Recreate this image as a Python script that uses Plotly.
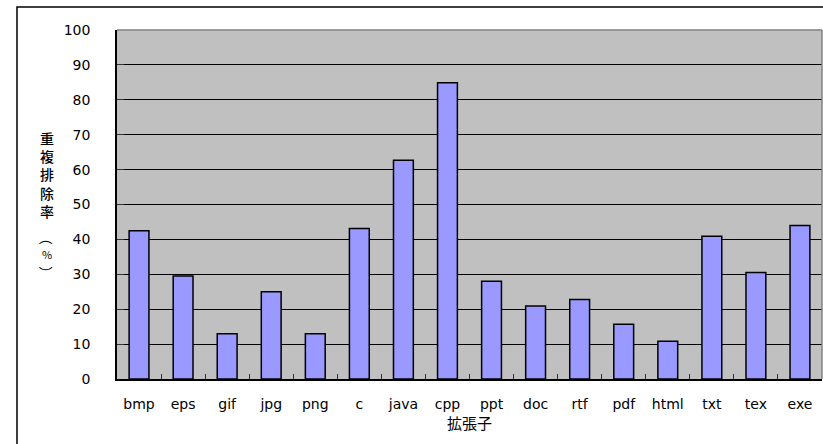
import plotly.graph_objects as go

categories = ["bmp", "eps", "gif", "jpg", "png", "c", "java", "cpp", "ppt", "doc",
              "rtf", "pdf", "html", "txt", "tex", "exe"]
values = [42.5, 29.5, 13, 25, 13, 43.1, 62.7, 84.9, 28, 20.9, 22.8, 15.7, 10.8, 40.9, 30.5, 44]
y_ticks = [0, 10, 20, 30, 40, 50, 60, 70, 80, 90, 100]
y_title_main = "重<br>複<br>排<br>除<br>率"
y_title_paren = ["（", "%", "）"]
x_title = "拡張子"

FONT = "Noto Sans CJK JP, MS PGothic, sans-serif"
TICKFONT = "DejaVu Sans, sans-serif"

fig = go.Figure(go.Bar(
    x=categories, y=values,
    marker=dict(color="#9999FF", line=dict(color="black", width=1.5)),
    width=0.45,
))


def py(v):
    return (379 - v) / 349


def px(v):
    return (v - 117) / 705


annotations = [dict(
    text=y_title_main, xref="paper", yref="paper",
    x=px(47), y=py(175),
    xanchor="center", yanchor="middle", showarrow=False,
    font=dict(size=14, family=FONT, weight=500), align="center",
)]
paren_y = [238, 254, 273]
for ch, yy in zip(y_title_paren, paren_y):
    annotations.append(dict(
        text=ch, xref="paper", yref="paper", x=px(47), y=py(yy),
        xanchor="center", yanchor="middle", showarrow=False,
        textangle=90 if ch != "%" else 0,
        font=dict(size=14 if ch != "%" else 11, family=FONT),
    ))

fig.update_layout(
    width=823, height=444,
    margin=dict(l=117, r=1, t=30, b=65),
    paper_bgcolor="white",
    plot_bgcolor="#C0C0C0",
    showlegend=False,
    font=dict(family=FONT, size=13, color="black"),
    xaxis=dict(
        type="category",
        showline=True, linecolor="black", linewidth=1.5,
        ticks="inside", tickson="boundaries", ticklen=5, tickcolor="#333333",
        showgrid=False,
        tickfont=dict(size=14, family=TICKFONT),
        ticklabelstandoff=11,
        title=dict(text=x_title, font=dict(size=15), standoff=4),
    ),
    yaxis=dict(
        range=[0, 100],
        tickvals=y_ticks,
        showline=True, linecolor="black", linewidth=1.5,
        ticks="inside", ticklen=7, tickcolor="#333333",
        showgrid=True, gridcolor="black", gridwidth=1,
        zeroline=False,
        tickfont=dict(size=14, family=TICKFONT),
        ticklabelstandoff=22,
    ),
    annotations=annotations,
    shapes=[
        # outer chart border (cropped)
        dict(type="rect", xref="paper", yref="paper",
             x0=px(17), x1=1.2, y0=-0.5, y1=py(7),
             line=dict(color="black", width=1.5), layer="above"),
        # plot area top/right border
        dict(type="line", xref="paper", yref="paper", x0=0, x1=1, y0=1, y1=1,
             line=dict(color="#808080", width=1.5), layer="above"),
        dict(type="line", xref="paper", yref="paper", x0=1, x1=1, y0=0, y1=1,
             line=dict(color="#808080", width=1.5), layer="above"),
    ],
)

fig.write_html("out.html")
